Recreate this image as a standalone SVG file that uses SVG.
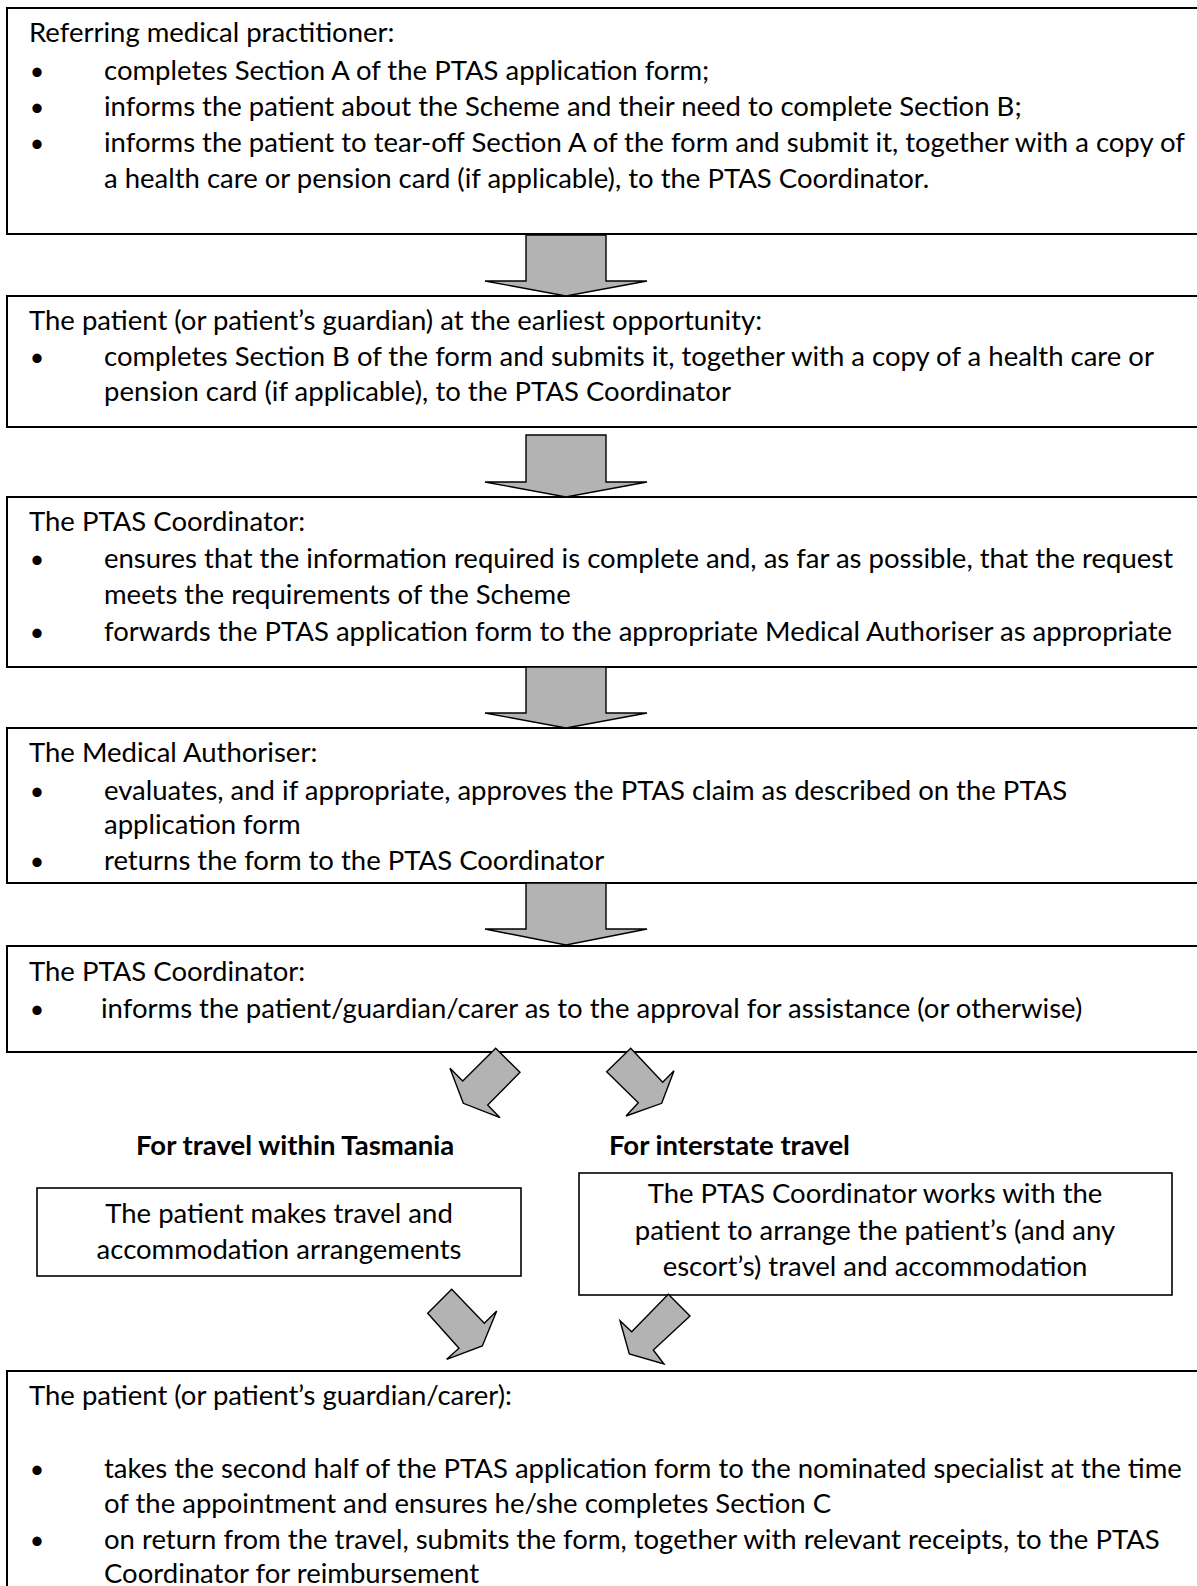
<svg xmlns="http://www.w3.org/2000/svg" width="1197" height="1586" viewBox="0 0 1197 1586">
<defs>
<style>
.box{fill:#fff;stroke:#000;stroke-width:2}
.sbox{fill:#fff;stroke:#000;stroke-width:1.6}
.arr{fill:#b3b3b3;stroke:#000;stroke-width:1.4;stroke-linejoin:miter}
text{font-family:Lato,"Noto Sans",sans-serif;font-size:27.5px;fill:#000}
.b{font-weight:bold}
.c{text-anchor:middle}
.bul{text-anchor:middle;font-size:25px}
</style>
</defs>
<rect width="1197" height="1586" fill="#fff"/>

<g id="node1">
<rect class="box" x="7" y="8" width="1200" height="226"/>
<text x="29" y="42">Referring medical practitioner:</text>
<text class="bul" x="37" y="80">•</text>
<text x="104" y="80">completes Section A of the PTAS application form;</text>
<text class="bul" x="37" y="116">•</text>
<text x="104" y="116">informs the patient about the Scheme and their need to complete Section B;</text>
<text class="bul" x="37" y="152">•</text>
<text x="104" y="152">informs the patient to tear-off Section A of the form and submit it, together with a copy of</text>
<text x="104" y="188">a health care or pension card (if applicable), to the PTAS Coordinator.</text>
</g>

<g id="node2">
<rect class="box" x="7" y="296" width="1200" height="131"/>
<text x="29" y="330">The patient (or patient’s guardian) at the earliest opportunity:</text>
<text class="bul" x="37" y="366">•</text>
<text x="104" y="366">completes Section B of the form and submits it, together with a copy of a health care or</text>
<text x="104" y="401">pension card (if applicable), to the PTAS Coordinator</text>
</g>

<g id="node3">
<rect class="box" x="7" y="497" width="1200" height="170"/>
<text x="29" y="531">The PTAS Coordinator:</text>
<text class="bul" x="37" y="568">•</text>
<text x="104" y="568">ensures that the information required is complete and, as far as possible, that the request</text>
<text x="104" y="604">meets the requirements of the Scheme</text>
<text class="bul" x="37" y="641">•</text>
<text x="104" y="641">forwards the PTAS application form to the appropriate Medical Authoriser as appropriate</text>
</g>

<g id="node4">
<rect class="box" x="7" y="728" width="1200" height="155"/>
<text x="29" y="762">The Medical Authoriser:</text>
<text class="bul" x="37" y="800">•</text>
<text x="104" y="800">evaluates, and if appropriate, approves the PTAS claim as described on the PTAS</text>
<text x="104" y="834">application form</text>
<text class="bul" x="37" y="870">•</text>
<text x="104" y="870">returns the form to the PTAS Coordinator</text>
</g>

<g id="node5">
<rect class="box" x="7" y="946" width="1200" height="106"/>
<text x="29" y="981">The PTAS Coordinator:</text>
<text class="bul" x="37" y="1018">•</text>
<text x="101" y="1018">informs the patient/guardian/carer as to the approval for assistance (or otherwise)</text>
</g>

<g id="label-tas">
<text class="b" x="136" y="1155">For travel within Tasmania</text>
</g>
<g id="label-interstate">
<text class="b" x="609" y="1155">For interstate travel</text>
</g>

<g id="node6">
<rect class="sbox" x="37" y="1188" width="484" height="88"/>
<text class="c" x="279" y="1223">The patient makes travel and</text>
<text class="c" x="279" y="1259">accommodation arrangements</text>
</g>

<g id="node7">
<rect class="sbox" x="579" y="1173" width="593" height="122"/>
<text class="c" x="875" y="1203">The PTAS Coordinator works with the</text>
<text class="c" x="875" y="1240">patient to arrange the patient’s (and any</text>
<text class="c" x="875" y="1276">escort’s) travel and accommodation</text>
</g>

<g id="node8">
<rect class="box" x="7" y="1371" width="1200" height="230"/>
<text x="29" y="1405">The patient (or patient’s guardian/carer):</text>
<text class="bul" x="37" y="1478">•</text>
<text x="104" y="1478">takes the second half of the PTAS application form to the nominated specialist at the time</text>
<text x="104" y="1513">of the appointment and ensures he/she completes Section C</text>
<text class="bul" x="37" y="1549">•</text>
<text x="104" y="1549">on return from the travel, submits the form, together with relevant receipts, to the PTAS</text>
<text x="104" y="1583">Coordinator for reimbursement</text>
</g>

<g id="connectors">
<polygon class="arr" points="526,235 606,235 606,281 647,281 566,296 485,281 526,281"/>
<polygon class="arr" points="526,435 606,435 606,482 647,482 566,497 485,482 526,482"/>
<polygon class="arr" points="526,667 606,667 606,713 647,713 566,728 485,713 526,713"/>
<polygon class="arr" points="526,883 606,883 606,929 647,929 566,945 485,929 526,929"/>
<polygon class="arr" points="495.7,1048.3 520,1072.3 487.7,1105 500,1117.7 463.3,1103.3 450,1068.3 462.7,1081"/>
<polygon class="arr" points="630.7,1048.3 606.7,1071.7 638.3,1102.7 626,1116 661.7,1103.3 674,1070.7 662.7,1082.3"/>
<polygon class="arr" points="451.7,1289.3 427.7,1313.3 459,1348.3 446.7,1359.3 482.3,1346 496.7,1311 484.3,1323.3"/>
<polygon class="arr" points="668.3,1294.3 690,1316 653.3,1350 664,1364 629.3,1354 620,1320.7 631.7,1331.7"/>
</g>
</svg>
